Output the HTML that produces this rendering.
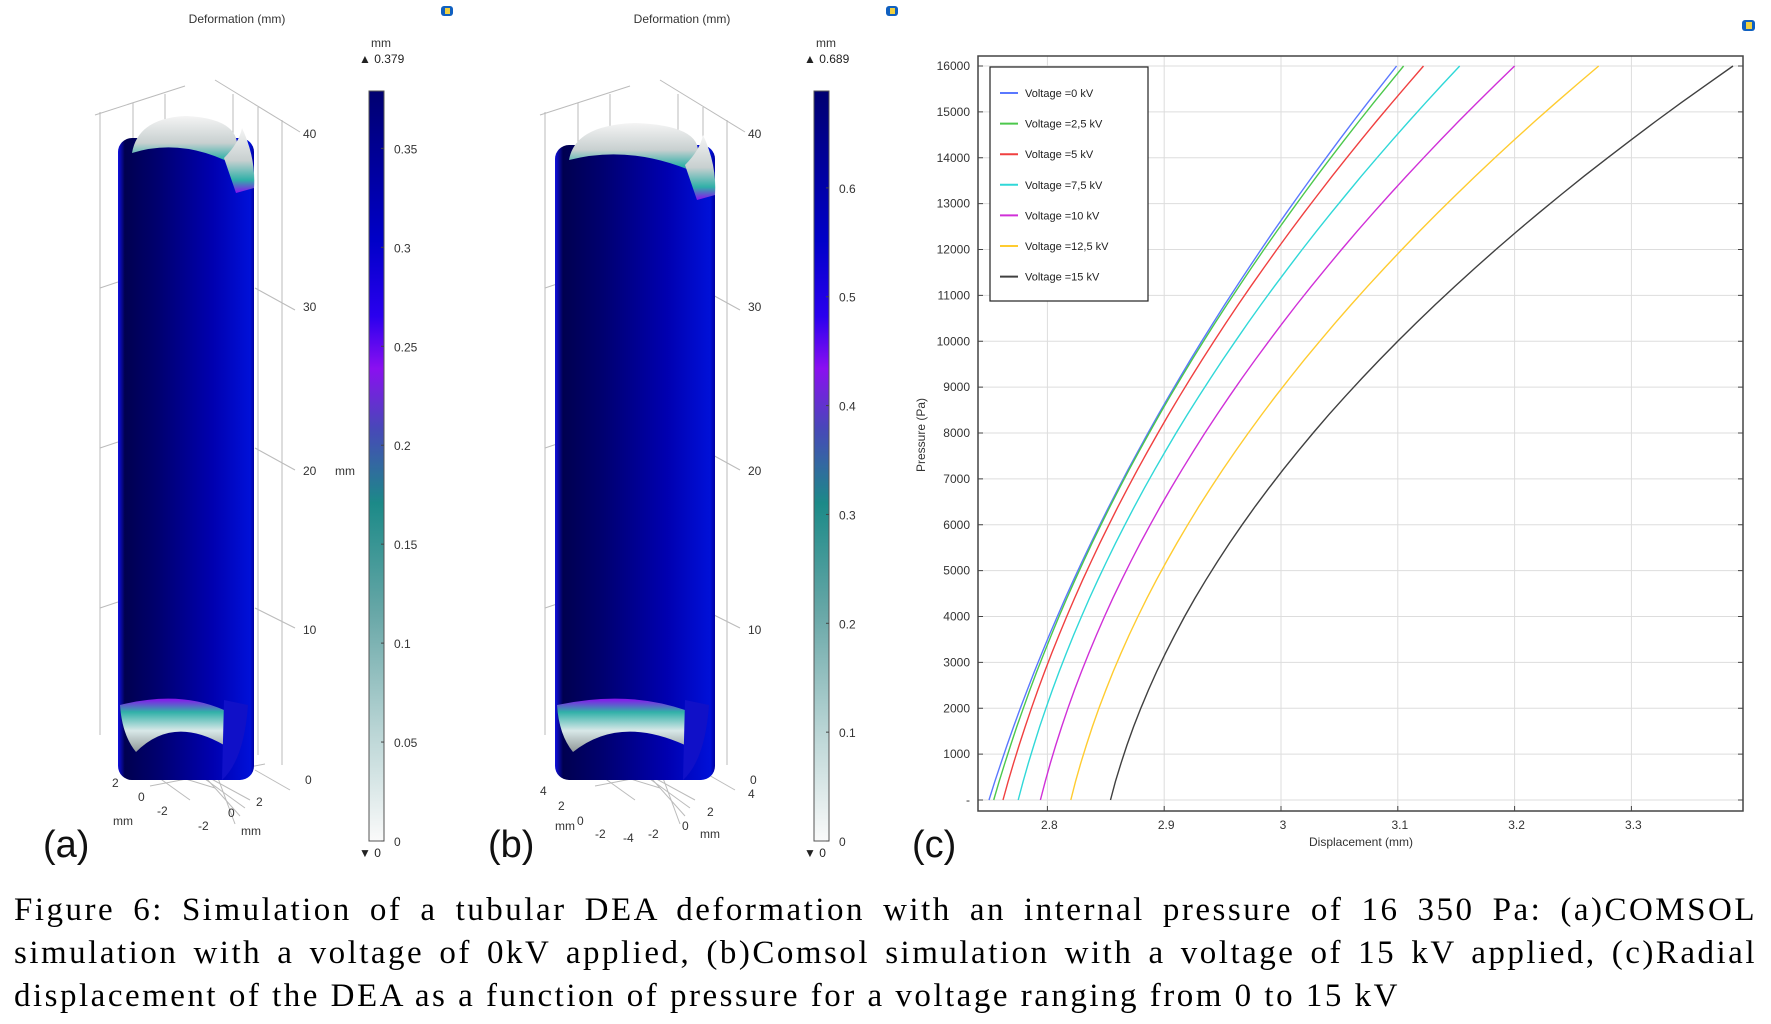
<!DOCTYPE html>
<html><head><meta charset="utf-8">
<style>
body{margin:0;background:#fff;width:1771px;height:1024px;overflow:hidden;position:relative;font-family:"Liberation Sans",sans-serif}
#cap{position:absolute;left:14px;top:889px;width:1743px;font-family:"Liberation Serif",serif;font-size:33px;line-height:43px;color:#000;letter-spacing:2.5px}
#cap div{text-align:justify;text-align-last:justify;white-space:nowrap}
#cap div.l{text-align-last:left}
</style></head><body>
<svg id="s" width="1771" height="1024" xmlns="http://www.w3.org/2000/svg" style="position:absolute;left:0;top:0">
<defs>
<linearGradient id="cb" x1="0" y1="0" x2="0" y2="1">
<stop offset="0" stop-color="#000070"/><stop offset="0.2" stop-color="#0000c8"/><stop offset="0.3" stop-color="#2a00ee"/><stop offset="0.37" stop-color="#8a10f0"/><stop offset="0.45" stop-color="#4848b8"/><stop offset="0.55" stop-color="#1c8a88"/><stop offset="0.7" stop-color="#6aa8a8"/><stop offset="0.85" stop-color="#b8d4d4"/><stop offset="1" stop-color="#fafafa"/></linearGradient>
<linearGradient id="cyl" x1="0" y1="0" x2="1" y2="0">
<stop offset="0" stop-color="#1010e0"/><stop offset="0.05" stop-color="#000050"/><stop offset="0.3" stop-color="#000070"/><stop offset="0.7" stop-color="#0000b0"/><stop offset="0.97" stop-color="#0010d8"/><stop offset="1" stop-color="#0000a0"/></linearGradient>
<linearGradient id="capg" x1="0" y1="0" x2="0" y2="1">
<stop offset="0" stop-color="#f4f4f4"/><stop offset="0.5" stop-color="#c8d0d0"/><stop offset="0.8" stop-color="#30b0a8"/><stop offset="1" stop-color="#8a10f0"/></linearGradient>
<linearGradient id="capb" x1="0" y1="0" x2="0" y2="1">
<stop offset="0" stop-color="#8a10f0"/><stop offset="0.25" stop-color="#30b0a8"/><stop offset="0.6" stop-color="#d8e8e8"/><stop offset="1" stop-color="#909898"/></linearGradient>
</defs>
<g id="g"></g>
</svg>
<div id="cap"><div>Figure 6: Simulation of a tubular DEA deformation with an internal pressure of 16 350 Pa: (a)COMSOL</div><div>simulation with a voltage of 0kV applied, (b)Comsol simulation with a voltage of 15 kV applied, (c)Radial</div><div class="l">displacement of the DEA as a function of pressure for a voltage ranging from 0 to 15 kV</div></div>
<script>
var h='';
function T(x,y,t,s,a,c,e){h+='<text x="'+x+'" y="'+y+'" font-size="'+s+'" text-anchor="'+(a||'start')+'" fill="'+(c||'#333')+'" '+(e||'')+'>'+t+'</text>';}
function L(x1,y1,x2,y2,c,w){h+='<line x1="'+x1+'" y1="'+y1+'" x2="'+x2+'" y2="'+y2+'" stroke="'+(c||'#bbb')+'" stroke-width="'+(w||1)+'"/>';}
function panel(ox,cx0,cx1,cyTop,cbx,max,ticks,lbl,axisLbl,zl){
 T(ox+237,23,'Deformation (mm)',12,'middle');
 h+='<rect x="'+(ox+441)+'" y="6" width="12" height="10" rx="3" fill="#1060c0"/><rect x="'+(ox+445)+'" y="8" width="5" height="6" fill="#f0d040"/>';
 L(ox+95,115,ox+185,86);L(ox+215,80,ox+300,132);
 [ox+100,ox+133,ox+165].forEach(function(x,i){L(x,112-i*9,x,735-i*4);});
 [ox+233,ox+258,ox+282].forEach(function(x,i){L(x,94+i*13,x,745+i*10);});
 L(ox+100,288,ox+118,282);L(ox+100,448,ox+118,442);L(ox+100,608,ox+118,602);
 L(ox+255,288,ox+295,310);L(ox+255,448,ox+295,470);L(ox+255,608,ox+295,628);L(ox+255,770,ox+290,790);
 [[40,138],[30,311],[20,475],[10,634],[0,784]].forEach(function(v){T(ox+303+(v[0]==0?2:0),v[1],v[0],12,'start');});
 if(zl)T(ox+335,475,'mm',12);
 for(var i=0;i<4;i++){L(ox+120+i*10,750+i*12,ox+190+i*25,800-i*12);L(ox+140+i*25,740+i*10,ox+250-i*5,800+i*8);}
 axisLbl.forEach(function(a){T(ox+a[0],a[1],a[2],12);});
 var w=cx1-cx0;
 h+='<rect x="'+(ox+cx0)+'" y="'+(cyTop+20)+'" width="'+w+'" height="'+(760-cyTop)+'" rx="14" fill="url(#cyl)"/>';
 h+='<path d="M'+(ox+cx0+14)+' '+(cyTop+35)+' Q'+(ox+cx0+20)+' '+cyTop+' '+(ox+cx0+w*0.5)+' '+(cyTop-2)+' Q'+(ox+cx1-25)+' '+cyTop+' '+(ox+cx1-18)+' '+(cyTop+20)+' L'+(ox+cx1-10)+' '+(cyTop+52)+' Q'+(ox+cx0+w*0.5)+' '+(cyTop+18)+' '+(ox+cx0+14)+' '+(cyTop+35)+'Z" fill="url(#capg)"/>';
 h+='<path d="M'+(ox+cx1-30)+' '+(cyTop+40)+' Q'+(ox+cx1-15)+' '+(cyTop+25)+' '+(ox+cx1-12)+' '+(cyTop+10)+' Q'+(ox+cx1+2)+' '+(cyTop+40)+' '+(ox+cx1)+' '+(cyTop+70)+' L'+(ox+cx1-18)+' '+(cyTop+75)+'Z" fill="url(#capg)"/>';
 h+='<path d="M'+(ox+cx0+2)+' 705 Q'+(ox+cx0+w*0.45)+' 690 '+(ox+cx1-30)+' 710 L'+(ox+cx1-30)+' 745 Q'+(ox+cx0+w*0.4)+' 715 '+(ox+cx0+18)+' 752 Q'+(ox+cx0+4)+' 735 '+(ox+cx0+2)+' 705Z" fill="url(#capb)"/>';
 h+='<path d="M'+(ox+cx1-30)+' 700 L'+(ox+cx1-6)+' 705 Q'+(ox+cx1-10)+' 760 '+(ox+cx1-32)+' 780 Z" fill="#1010c8"/>';
 h+='<rect x="'+(ox+cbx)+'" y="91" width="15" height="750" fill="url(#cb)" stroke="#555" stroke-width="1"/>';
 T(ox+cbx+12,47,'mm',12,'middle');T(ox+cbx-10,63,'▲ '+max,12,'start','#222');T(ox+cbx-10,841+16,'▼ 0',12,'start','#222');
 ticks.forEach(function(v){var y=841-v/max*750;L(ox+cbx+12,y,ox+cbx+15,y,'#444');T(ox+cbx+25,y+5,v,12,'start');});
 T(ox+43,857,lbl,38,'start','#111','font-family="Liberation Sans"');
}
panel(0,118,254,118,369,0.379,[0,0.05,0.1,0.15,0.2,0.25,0.3,0.35],'(a)',[[112,787,'2'],[138,801,'0'],[157,815,'-2'],[113,825,'mm'],[198,830,'-2'],[228,817,'0'],[256,806,'2'],[241,835,'mm']],true);
panel(445,110,270,125,369,0.689,[0,0.1,0.2,0.3,0.4,0.5,0.6],'(b)',[[95,795,'4'],[113,810,'2'],[132,825,'0'],[150,838,'-2'],[110,830,'mm'],[178,842,'-4'],[203,838,'-2'],[237,830,'0'],[262,816,'2'],[303,798,'4'],[255,838,'mm']],false);
var X0=978,X1=1743,Y0=56,Y1=811;
function px(x){return 989+(x-2.75)*1168;}function py(p){return 800-p/16000*734;}
h+='<rect x="1742" y="20" width="13" height="11" rx="3" fill="#1060c0"/><rect x="1746" y="22" width="6" height="7" fill="#f0d040"/>';
for(var p=0;p<=16000;p+=1000){L(X0,py(p),X1,py(p),'#ddd');L(X0,py(p),X0+5,py(p),'#444');L(X1-5,py(p),X1,py(p),'#444');T(970,py(p)+4,p==0?'-':p,12,'end');}
[2.8,2.9,3,3.1,3.2,3.3].forEach(function(x){L(px(x),Y0,px(x),Y1,'#ddd');L(px(x),Y1-5,px(x),Y1,'#444');T(px(x)+2,Y1+18,x,12,'middle');});
h+='<rect x="'+X0+'" y="'+Y0+'" width="'+(X1-X0)+'" height="'+(Y1-Y0)+'" fill="none" stroke="#444" stroke-width="1.5"/>';
T(1361,846,'Displacement (mm)',12,'middle');
T(0,0,'Pressure (Pa)',12,'middle','#333','transform="translate(925,435) rotate(-90)"');
var S=[['#5a78ff',2.750,3.099,'0'],['#4cc84c',2.754,3.105,'2,5'],['#f04040',2.762,3.122,'5'],['#30d8d8',2.775,3.153,'7,5'],['#d030d8',2.794,3.200,'10'],['#ffcc30',2.820,3.272,'12,5'],['#404040',2.854,3.387,'15']];
S.forEach(function(s,k){var a=0.56-k*0.043,d='';for(var i=0;i<=40;i++){var t=i/40;var x=s[1]+(s[2]-s[1])*(a*t+(1-a)*t*t);d+=(i?'L':'M')+px(x).toFixed(1)+' '+py(t*16000).toFixed(1);}
h+='<path d="'+d+'" fill="none" stroke="'+s[0]+'" stroke-width="1.4"/>';});
h+='<rect x="990" y="67" width="158" height="234" fill="#fff" stroke="#222" stroke-width="1.2"/>';
S.forEach(function(s,k){var y=93+k*30.6;L(1000,y,1018,y,s[0],2);T(1025,y+4,'Voltage ='+s[3]+' kV',11,'start','#222');});
T(912,857,'(c)',38,'start','#111');
document.getElementById('g').innerHTML=h;
</script>
</body></html>
